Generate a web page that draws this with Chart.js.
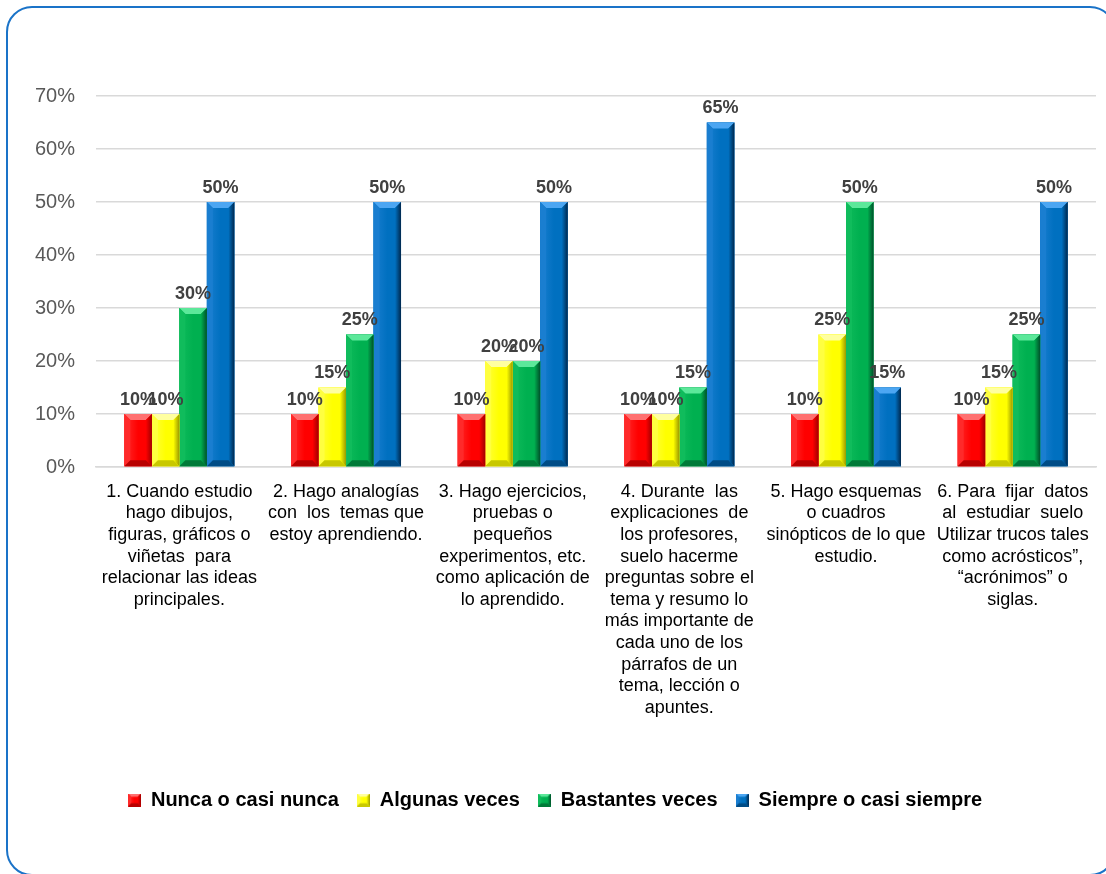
<!DOCTYPE html>
<html>
<head>
<meta charset="utf-8">
<script src="https://cdn.jsdelivr.net/npm/chart.js@4"></script>
<style>
  html, body { margin: 0; padding: 0; background: #fff; overflow: hidden; }
  #frame {
    position: absolute; left: 6px; top: 6px; width: 1110px; height: 870px;
    border: 2px solid #1a73c8; border-radius: 26px; box-sizing: border-box;
  }
  #chart { position: absolute; left: 0; top: 0; }
</style>
</head>
<body>
<div id="frame"></div>
<canvas id="chart" width="1106" height="874"></canvas>
<script>
// categories (already split into lines like the original)
const categories = [
  ['1. Cuando estudio', 'hago dibujos,', 'figuras, gráficos o', 'viñetas  para', 'relacionar las ideas', 'principales.'],
  ['2. Hago analogías', 'con  los  temas que', 'estoy aprendiendo.'],
  ['3. Hago ejercicios,', 'pruebas o', 'pequeños', 'experimentos, etc.', 'como aplicación de', 'lo aprendido.'],
  ['4. Durante  las', 'explicaciones  de', 'los profesores,', 'suelo hacerme', 'preguntas sobre el', 'tema y resumo lo', 'más importante de', 'cada uno de los', 'párrafos de un', 'tema, lección o', 'apuntes.'],
  ['5. Hago esquemas', 'o cuadros', 'sinópticos de lo que', 'estudio.'],
  ['6. Para  fijar  datos', 'al  estudiar  suelo', 'Utilizar trucos tales', 'como acrósticos”,', '“acrónimos” o', 'siglas.']
];

const seriesNames = ['Nunca o casi nunca', 'Algunas veces', 'Bastantes veces', 'Siempre o casi siempre'];

const nunca = [10, 10, 10, 10, 10, 10];
const algunas = [10, 15, 20, 10, 25, 15];
const bastantes = [30, 25, 20, 15, 50, 25];
const siempre = [50, 50, 50, 65, 15, 50];

const yTicks = [0, 10, 20, 30, 40, 50, 60, 70];

// bevel shades per series: front, left, top, right, bottom
const shades = [
  { front: '#FF0000', left: '#FF2a2a', top: '#FF7070', right: '#A00000', bottom: '#B80000' },
  { front: '#FFFF00', left: '#FFFF40', top: '#FFFFA0', right: '#9A9A00', bottom: '#C8C800' },
  { front: '#00B050', left: '#10BC5C', top: '#5CE89A', right: '#00502A', bottom: '#007A38' },
  { front: '#0070C0', left: '#1A7ED0', top: '#4CA6F2', right: '#00284E', bottom: '#004C86' }
];

function drawBevel(ctx, x0, y0, x1, y1, s) {
  const w = x1 - x0, h = y1 - y0;
  if (h <= 0) return;
  const b = Math.min(6, w / 4, h / 2);
  const g = ctx.createLinearGradient(x0, 0, x1, 0);
  g.addColorStop(0, s.left);
  g.addColorStop(0.5, s.front);
  g.addColorStop(1, s.front);
  ctx.fillStyle = g;
  ctx.fillRect(x0, y0, w, h);
  const poly = (pts, c) => {
    ctx.beginPath();
    ctx.moveTo(pts[0][0], pts[0][1]);
    for (let i = 1; i < pts.length; i++) ctx.lineTo(pts[i][0], pts[i][1]);
    ctx.closePath();
    ctx.fillStyle = c;
    ctx.fill();
  };
  poly([[x0, y0], [x1, y0], [x1 - b, y0 + b], [x0 + b, y0 + b]], s.top);
  poly([[x0, y0], [x0 + b, y0 + b], [x0 + b, y1 - b], [x0, y1]], s.left);
  const rg = ctx.createLinearGradient(x1 - b, 0, x1, 0);
  rg.addColorStop(0, s.front);
  rg.addColorStop(1, s.right);
  poly([[x1, y0], [x1, y1], [x1 - b, y1 - b], [x1 - b, y0 + b]], rg);
  poly([[x0, y1], [x1, y1], [x1 - b, y1 - b], [x0 + b, y1 - b]], s.bottom);
}

function legendIcon(s) {
  const c = document.createElement('canvas');
  c.width = 13; c.height = 13;
  drawBevel(c.getContext('2d'), 0, 0, 13, 13, s);
  return c;
}

const bevelBars = {
  id: 'bevelBars',
  afterDatasetDraw(chart, args) {
    const ctx = chart.ctx;
    const s = shades[args.index];
    ctx.save();
    args.meta.data.forEach(bar => {
      const p = bar.getProps(['x', 'y', 'base', 'width'], true);
      drawBevel(ctx, p.x - p.width / 2, p.y, p.x + p.width / 2, p.base, s);
    });
    ctx.restore();
  }
};

const valueLabels = {
  id: 'valueLabels',
  afterDatasetsDraw(chart) {
    const ctx = chart.ctx;
    ctx.save();
    ctx.font = 'bold 18px "Liberation Sans", Arial, sans-serif';
    ctx.fillStyle = '#404040';
    ctx.textAlign = 'center';
    ctx.textBaseline = 'bottom';
    chart.data.datasets.forEach((ds, i) => {
      chart.getDatasetMeta(i).data.forEach((bar, j) => {
        ctx.fillText(ds.data[j] + '%', bar.x, bar.y - 5);
      });
    });
    ctx.restore();
  }
};

const seriesData = [nunca, algunas, bastantes, siempre];

new Chart(document.getElementById('chart'), {
  type: 'bar',
  data: {
    labels: categories,
    datasets: seriesData.map((d, i) => ({
      label: seriesNames[i],
      data: d,
      backgroundColor: shades[i].front,
      borderWidth: 0,
      pointStyle: legendIcon(shades[i]),
      categoryPercentage: 0.66,
      barPercentage: 1
    }))
  },
  options: {
    responsive: false,
    animation: false,
    devicePixelRatio: 1,
    layout: { padding: { top: 96, left: 14, right: 10, bottom: 54 } },
    scales: {
      x: {
        grid: { display: false },
        border: { display: true, color: '#d9d9d9', width: 1.5 },
        ticks: {
          color: '#000',
          font: { family: '"Liberation Sans", Arial, sans-serif', size: 18 },
          maxRotation: 0, minRotation: 0, autoSkip: false, padding: 6
        },
        afterFit(axis) { axis.height = 305; }
      },
      y: {
        min: 0, max: 70,
        afterBuildTicks(axis) { axis.ticks = yTicks.map(v => ({ value: v })); },
        grid: { color: '#d9d9d9', lineWidth: 1.5, drawTicks: false },
        border: { display: false },
        ticks: {
          color: '#595959',
          padding: 21,
          font: { family: '"Liberation Sans", Arial, sans-serif', size: 20 },
          callback: v => v + '%'
        }
      }
    },
    plugins: {
      legend: {
        position: 'bottom',
        labels: {
          usePointStyle: true,
          pointStyleWidth: 13,
          color: '#000',
          padding: 18,
          font: { family: '"Liberation Sans", Arial, sans-serif', size: 20, weight: 'bold' }
        }
      },
      tooltip: { enabled: false }
    }
  },
  plugins: [bevelBars, valueLabels]
});
</script>
</body>
</html>
